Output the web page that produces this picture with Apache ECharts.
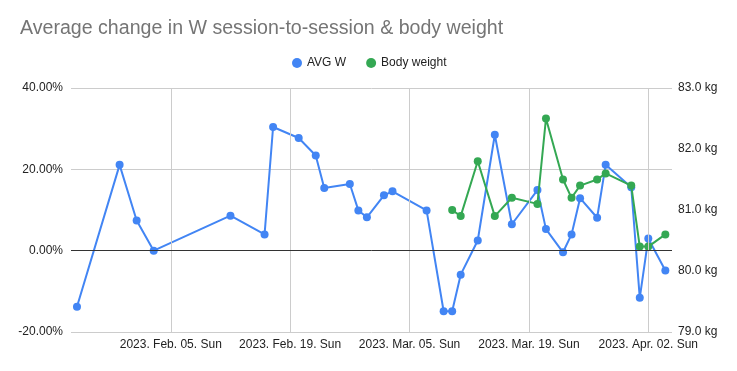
<!DOCTYPE html>
<html>
<head>
<meta charset="utf-8">
<script src="https://cdn.jsdelivr.net/npm/echarts@6/dist/echarts.min.js"></script>
<style>html,body{margin:0;padding:0;background:#fff}#c{width:737px;height:371px}</style>
</head>
<body>
<div id="c"></div>
<script>
const titleText = 'Average change in W session-to-session & body weight';
const seriesNames = ['AVG W', 'Body weight'];
const wDates = ['2023-01-25','2023-01-30','2023-02-01','2023-02-03','2023-02-12','2023-02-16','2023-02-17','2023-02-20','2023-02-22','2023-02-23','2023-02-26','2023-02-27','2023-02-28','2023-03-02','2023-03-03','2023-03-07','2023-03-09','2023-03-10','2023-03-11','2023-03-13','2023-03-15','2023-03-17','2023-03-20','2023-03-21','2023-03-23','2023-03-24','2023-03-25','2023-03-27','2023-03-28','2023-03-31','2023-04-01','2023-04-02','2023-04-04'];
const wValues = [-13.8,21.1,7.4,0.0,8.6,4.0,30.4,27.7,23.4,15.4,16.4,9.9,8.2,13.6,14.6,9.9,-14.9,-14.9,-5.9,2.5,28.5,6.5,14.9,5.3,-0.4,4.0,12.9,8.1,21.1,15.6,-11.6,3.0,-4.9];
const bwDates = ['2023-03-10','2023-03-11','2023-03-13','2023-03-15','2023-03-17','2023-03-20','2023-03-21','2023-03-23','2023-03-24','2023-03-25','2023-03-27','2023-03-28','2023-03-31','2023-04-01','2023-04-02','2023-04-04'];
const bwValues = [81.0,80.9,81.8,80.9,81.2,81.1,82.5,81.5,81.2,81.4,81.5,81.6,81.4,80.4,80.4,80.6];
const xTickDates = ['2023-02-05','2023-02-19','2023-03-05','2023-03-19','2023-04-02'];
const leftTicks = [-20, 0, 20, 40];
const rightTicks = [79, 80, 81, 82, 83];

function parseD(s){ const p = s.split('-').map(Number); return new Date(p[0], p[1]-1, p[2]).getTime(); }
const MON = ['Jan','Feb','Mar','Apr','May','Jun','Jul','Aug','Sep','Oct','Nov','Dec'];
const DOW = ['Sun','Mon','Tue','Wed','Thu','Fri','Sat'];
function fmtDate(v){ const d = new Date(v); return d.getFullYear() + '. ' + MON[d.getMonth()] + '. ' + String(d.getDate()).padStart(2,'0') + '. ' + DOW[d.getDay()]; }

const DAY = 86400000;
const xMin = parseD(wDates[0]) - 0.7*DAY;
const xMax = parseD(wDates[wDates.length-1]) + 0.78*DAY;
const FONT = '"Liberation Sans", Arial, sans-serif';

const chart = echarts.init(document.getElementById('c'), null, {renderer:'canvas'});
chart.setOption({
  animation: false,
  backgroundColor: '#fff',
  textStyle: {fontFamily: FONT},
  title: {text: titleText, left: 20, top: 19, padding: 0,
    textStyle: {fontSize: 19.6, fontWeight: 'normal', color: '#757575', fontFamily: FONT}},
  legend: {data: seriesNames, left: 292, top: 57, padding: 0, icon: 'circle', itemWidth: 10, itemHeight: 10, itemGap: 20,
    textStyle: {fontSize: 12, color: '#222', fontFamily: FONT}},
  grid: {left: 71, right: 65, top: 88, bottom: 39, containLabel: false},
  xAxis: {type: 'value', min: xMin, max: xMax, scale: true,
    axisLine: {show: false},
    axisTick: {show: false, customValues: xTickDates.map(parseD)},
    splitLine: {show: false},
    axisLabel: {customValues: xTickDates.map(parseD), formatter: fmtDate, fontSize: 12, color: '#222', margin: 7, hideOverlap: false, showMinLabel: true, showMaxLabel: true, fontFamily: FONT}},
  yAxis: [
    {type: 'value', min: leftTicks[0], max: leftTicks[leftTicks.length-1], interval: 20,
      axisLine: {show: false}, axisTick: {show: false},
      splitLine: {lineStyle: {color: '#cccccc', width: 1}},
      axisLabel: {formatter: v => v.toFixed(2) + '%', fontSize: 12, color: '#222', margin: 8, fontFamily: FONT}},
    {type: 'value', min: rightTicks[0], max: rightTicks[rightTicks.length-1], interval: 1, position: 'right',
      axisLine: {show: false}, axisTick: {show: false}, splitLine: {show: false},
      axisLabel: {formatter: v => v.toFixed(1) + ' kg', fontSize: 12, color: '#222', margin: 6, fontFamily: FONT}}
  ],
  series: [
    {name: 'grid-helper', type: 'line', yAxisIndex: 0, z: 1, silent: true, symbol: 'none',
      data: wDates.map((d,i) => [parseD(d), wValues[i]]),
      lineStyle: {opacity: 0}, tooltip: {show: false},
      markLine: {silent: true, symbol: 'none', animation: false, label: {show: false},
        data: xTickDates.map(d => ({xAxis: parseD(d), lineStyle: {color: '#cccccc', width: 1, type: 'solid'}}))
          .concat([{yAxis: 0, lineStyle: {color: '#333333', width: 1, type: 'solid'}}])}},
    {name: seriesNames[0], type: 'line', yAxisIndex: 0, z: 3,
      data: wDates.map((d,i) => [parseD(d), wValues[i]]),
      symbol: 'circle', symbolSize: 8, showSymbol: true,
      itemStyle: {color: '#4285F4'}, lineStyle: {color: '#4285F4', width: 2}},
    {name: seriesNames[1], type: 'line', yAxisIndex: 1, z: 4,
      data: bwDates.map((d,i) => [parseD(d), bwValues[i]]),
      symbol: 'circle', symbolSize: 8, showSymbol: true,
      itemStyle: {color: '#34A853'}, lineStyle: {color: '#34A853', width: 2}}
  ]
});
</script>
</body>
</html>
